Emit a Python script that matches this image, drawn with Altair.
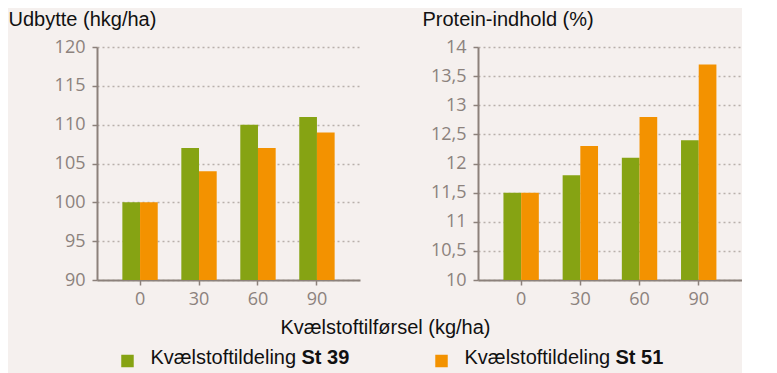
import altair as alt
import pandas as pd

# ---- data ----
doses = ["0", "30", "60", "90"]
series = ["St 39", "St 51"]
yield_st39 = [100, 107, 110, 111]
yield_st51 = [100, 104, 107, 109]
protein_st39 = [11.5, 11.8, 12.1, 12.4]
protein_st51 = [11.5, 12.3, 12.8, 13.7]
yield_ticks = [90, 95, 100, 105, 110, 115, 120]
protein_ticks = [10, 10.5, 11, 11.5, 12, 12.5, 13, 13.5, 14]
legend_prefix = "Kvælstoftildeling"
title_yield = "Udbytte (hkg/ha)"
title_protein = "Protein-indhold (%)"
title_x = "Kvælstoftilførsel (kg/ha)"

GREEN = "#86a313"
ORANGE = "#f39200"
BG = "#f5f0ee"
AXIS = "#8c817b"
GRID = "#b9b0ab"
LABEL = "#8c827d"


def frame(v1, v2):
    rows = []
    for d, a, b in zip(doses, v1, v2):
        rows.append({"dose": d, "series": series[0], "value": a})
        rows.append({"dose": d, "series": series[1], "value": b})
    return pd.DataFrame(rows)


df_yield = frame(yield_st39, yield_st51)
df_protein = frame(protein_st39, protein_st51)

color = alt.Color("series:N", scale=alt.Scale(domain=series, range=[GREEN, ORANGE]), legend=None)

AX_COMMON = dict(
    labelFont="Open Sans", labelFontSize=18, labelColor=LABEL,
    tickSize=5, tickColor=AXIS, tickWidth=1.5,
    domainColor=AXIS, domainWidth=2,
)


def panel(df, ticks, title, title_x_off, width, xtitle=None):
    if xtitle:
        x_axis = alt.Axis(
            labelAngle=0, labelPadding=5, grid=False, **AX_COMMON,
            title=xtitle, titleFont="Liberation Sans", titleFontSize=20,
            titleFontWeight="normal", titleColor="#111111",
            titleX=288, titleY=53, titleAlign="center", titleBaseline="alphabetic",
        )
    else:
        x_axis = alt.Axis(labelAngle=0, labelPadding=5, grid=False, title=None, **AX_COMMON)
    y_axis = alt.Axis(
        values=ticks, labelPadding=7, **AX_COMMON,
        grid=True, gridColor=GRID, gridDash=[2, 3], gridWidth=1.5,
        labelExpr="replace(toString(datum.value), '.', ',')",
        title=title, titleFont="Liberation Sans", titleFontSize=20,
        titleFontWeight="normal", titleColor="#111111", titleAngle=0,
        titleAlign="left", titleBaseline="alphabetic", titleX=title_x_off, titleY=-22,
    )
    return alt.Chart(df).mark_bar().encode(
        x=alt.X("dose:N", sort=doses, axis=x_axis,
                scale=alt.Scale(paddingInner=0.4, paddingOuter=0.43)),
        xOffset=alt.XOffset("series:N", sort=series),
        y=alt.Y("value:Q", axis=y_axis,
                scale=alt.Scale(domain=[ticks[0], ticks[-1]], zero=False, nice=False)),
        y2=alt.datum(ticks[0]),
        color=color,
    ).properties(width=width, height=233)


p1 = panel(df_yield, yield_ticks, title_yield, -89, 263, xtitle=title_x)
p2 = panel(df_protein, protein_ticks, title_protein, -56, 264)

top = alt.hconcat(p1, p2, spacing=118, bounds="flush")

df_leg = pd.DataFrame({"series": series, "prefix": [legend_prefix] * 2})
lx = alt.X("series:N", sort=series, axis=None,
           scale=alt.Scale(type="point", padding=0.0971))
base = alt.Chart(df_leg)
squares = base.mark_square(size=156, opacity=1).encode(x=lx, color=color)
prefix_txt = base.mark_text(align="left", baseline="alphabetic", dx=23, dy=3,
                            font="Liberation Sans", fontSize=20, color="#111111").encode(
    x=lx, text="prefix:N")
bold_txt = base.mark_text(align="left", baseline="alphabetic", dx=174, dy=3,
                          font="Liberation Sans", fontSize=20, fontWeight="bold",
                          color="#111111").encode(x=lx, text="series:N")
legend = alt.layer(squares, prefix_txt, bold_txt).properties(width=375, height=30)

chart = alt.vconcat(top, legend, spacing=9).properties(
    background=BG, padding={"left": 0, "top": 1, "right": 0, "bottom": 0}
).configure_view(stroke=None)

chart.save("out.html", embed_options={"renderer": "svg", "actions": False})
